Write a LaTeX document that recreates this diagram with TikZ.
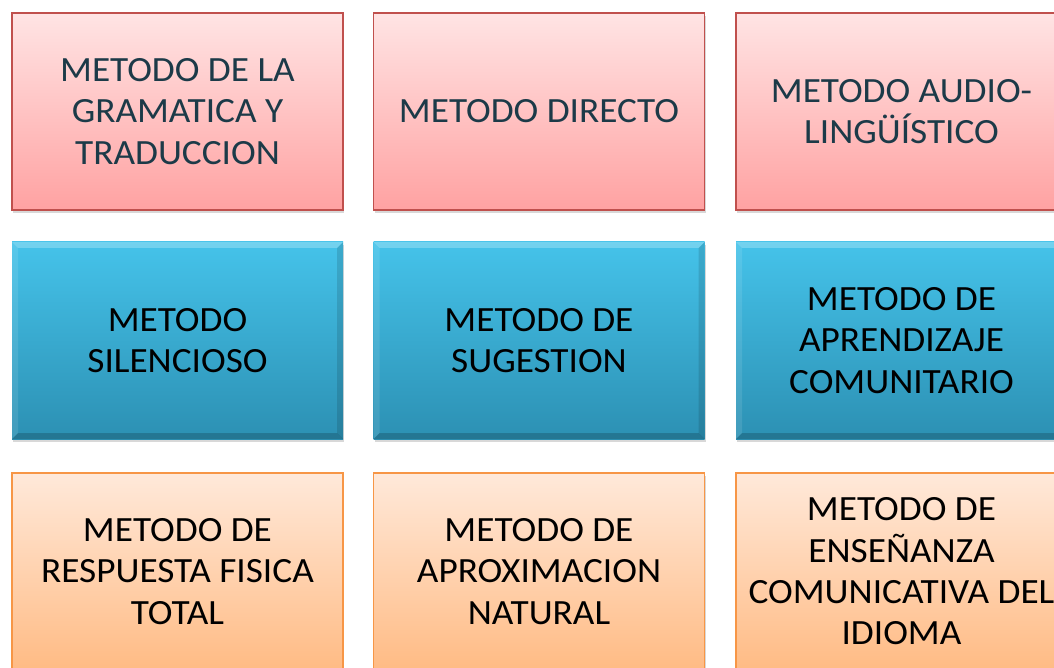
\documentclass[tikz,border=0pt]{standalone}
\usepackage{fontspec}
\setmainfont{Carlito}[FakeStretch=1.05]
\usetikzlibrary{shadows}
\definecolor{pinkT}{HTML}{FFE4E4}
\definecolor{pinkB}{HTML}{FFA2A2}
\definecolor{pinkE}{HTML}{C0504D}
\definecolor{blueT}{HTML}{45C3EA}
\definecolor{blueB}{HTML}{2C90B3}
\definecolor{peachT}{HTML}{FFE9DA}
\definecolor{peachB}{HTML}{FFBB84}
\definecolor{peachE}{HTML}{F79646}
\definecolor{txtdark}{HTML}{1C3A48}
\tikzset{
  cell/.style={minimum width=331pt, minimum height=197pt, inner sep=0pt, align=center,
    font=\fontsize{35.5}{41.3}\selectfont,
    drop shadow={shadow xshift=1pt, shadow yshift=-3pt, opacity=0.3, fill=gray}},
  pinkbox/.style={cell, top color=pinkT, bottom color=pinkB, draw=pinkE, line width=1.5pt, text=txtdark},
  peachbox/.style={cell, top color=peachT, bottom color=peachB, draw=peachE, line width=1.5pt, text=black},
  bluebox/.style={cell, top color=blueT, bottom color=blueB, text=black,
    path picture={
      \coordinate (nw) at (path picture bounding box.north west);
      \coordinate (ne) at (path picture bounding box.north east);
      \coordinate (sw) at (path picture bounding box.south west);
      \coordinate (se) at (path picture bounding box.south east);
      \fill[white, opacity=0.25] (nw) -- (ne) -- ([xshift=-6pt,yshift=-6pt]ne) -- ([xshift=6pt,yshift=-6pt]nw) -- cycle;
      \fill[white, opacity=0.10] (nw) -- ([xshift=6pt,yshift=-6pt]nw) -- ([xshift=6pt,yshift=6pt]sw) -- (sw) -- cycle;
      \fill[black, opacity=0.18] (sw) -- (se) -- ([xshift=-6pt,yshift=6pt]se) -- ([xshift=6pt,yshift=6pt]sw) -- cycle;
      \fill[black, opacity=0.12] (ne) -- ([xshift=-6pt,yshift=-6pt]ne) -- ([xshift=-6pt,yshift=6pt]se) -- (se) -- cycle;
    }}
}
\begin{document}
\begin{tikzpicture}[x=1pt,y=-1pt]
\useasboundingbox (0,0) rectangle (1054,668);
\clip (0,0) rectangle (1054,668);
\fill[white] (0,0) rectangle (1054,668);
% row 1
\node[pinkbox] (a1) at (177.5,111.5) {METODO DE LA\\GRAMATICA Y\\TRADUCCION};
\node[pinkbox] (a2) at (539,111.5) {METODO DIRECTO};
\node[pinkbox] (a3) at (901.5,111.5) {METODO AUDIO-\\LINGÜÍSTICO};
% row 2
\node[bluebox] (b1) at (177.5,340.5) {METODO\\SILENCIOSO};
\node[bluebox] (b2) at (539,340.5) {METODO DE\\SUGESTION};
\node[bluebox] (b3) at (901.5,340.5) {METODO DE\\APRENDIZAJE\\COMUNITARIO};
% row 3
\node[peachbox] (c1) at (177.5,571.5) {METODO DE\\RESPUESTA FISICA\\TOTAL};
\node[peachbox] (c2) at (539,571.5) {METODO DE\\APROXIMACION\\NATURAL};
\node[peachbox] (c3) at (901.5,571.5) {METODO DE\\ENSEÑANZA\\COMUNICATIVA DEL\\IDIOMA};
\end{tikzpicture}
\end{document}
